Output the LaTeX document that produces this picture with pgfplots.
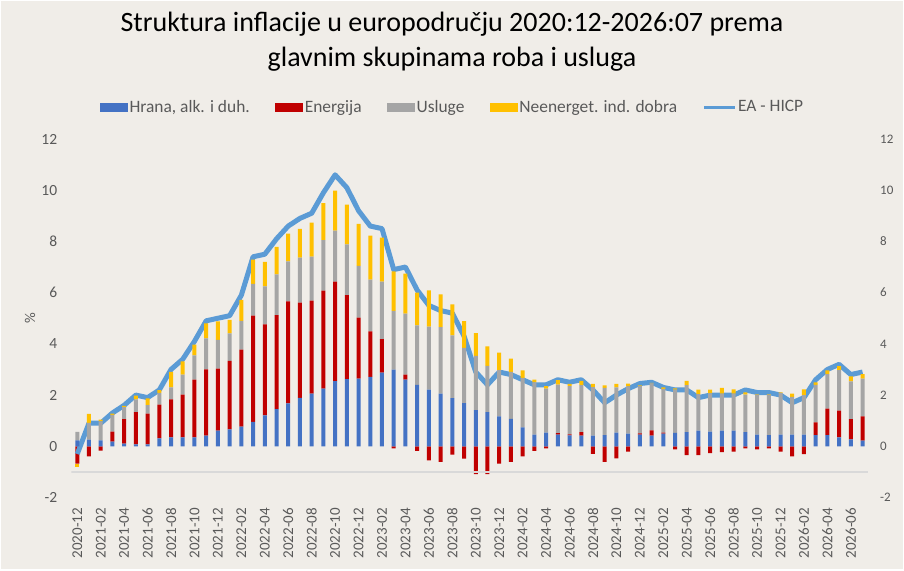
\documentclass[border=0pt]{standalone}
\usepackage{pgfplots}
\pgfplotsset{compat=1.18}
\usepackage{pgfplotstable}
\usepackage{fontspec}
\setmainfont{Carlito}
\definecolor{cfood}{HTML}{4472C4}
\definecolor{cenergy}{HTML}{C00000}
\definecolor{cserv}{HTML}{A5A5A5}
\definecolor{cneig}{HTML}{FFC000}
\definecolor{cline}{HTML}{5B9BD5}
\definecolor{cbg}{HTML}{F0EDE8}
\definecolor{ctick}{HTML}{595959}
\definecolor{caxis}{HTML}{D9D9D9}

\pgfplotstableread{
i food energy serv neig hicp
0 0.23 -0.68 0.33 -0.12 -0.3
1 0.26 -0.39 0.65 0.36 0.9
2 0.23 -0.17 0.74 0.07 0.9
3 0.18 0.39 0.66 0.05 1.3
4 0.10 0.96 0.47 0.05 1.6
5 0.07 1.26 0.50 0.15 2.0
6 0.07 1.21 0.33 0.26 1.9
7 0.31 1.32 0.46 0.10 2.2
8 0.35 1.48 0.47 0.61 3.0
9 0.35 1.67 0.78 0.52 3.4
10 0.35 2.25 0.95 0.42 4.1
11 0.42 2.58 1.21 0.59 4.9
12 0.61 2.42 1.13 0.72 5.0
13 0.66 2.68 1.07 0.53 5.1
14 0.77 3.00 1.13 0.82 5.9
15 0.95 4.15 1.24 0.95 7.4
16 1.21 3.55 1.48 0.96 7.5
17 1.45 3.67 1.59 1.08 8.1
18 1.68 3.98 1.56 1.08 8.6
19 1.89 3.72 1.76 1.12 8.9
20 2.06 3.63 1.72 1.32 9.1
21 2.25 3.83 1.97 1.45 9.9
22 2.54 3.89 1.99 1.56 10.6
23 2.62 3.28 1.98 1.56 10.1
24 2.64 2.38 2.03 1.64 9.2
25 2.71 1.78 2.02 1.72 8.6
26 2.88 1.30 2.25 1.72 8.5
27 2.99 -0.08 2.30 1.54 6.9
28 2.60 0.20 2.38 1.56 7.0
29 2.40 -0.18 2.32 1.28 6.1
30 2.21 -0.55 2.46 1.42 5.5
31 2.06 -0.61 2.59 1.28 5.3
32 1.88 -0.33 2.45 1.21 5.2
33 1.69 -0.48 2.15 1.05 4.3
34 1.41 -1.09 2.12 0.89 2.9
35 1.33 -1.09 1.81 0.76 2.4
36 1.17 -0.68 1.80 0.69 2.9
37 1.07 -0.61 1.84 0.51 2.8
38 0.74 -0.39 1.93 0.29 2.6
39 0.46 -0.18 2.04 0.10 2.4
40 0.53 -0.08 1.72 0.10 2.4
41 0.46 0.05 1.90 0.17 2.6
42 0.43 0.04 1.88 0.09 2.5
43 0.42 0.13 1.84 0.16 2.6
44 0.42 -0.30 1.89 0.13 2.2
45 0.44 -0.61 1.84 0.10 1.7
46 0.53 -0.47 1.77 0.14 2.0
47 0.49 -0.21 1.85 0.11 2.25
48 0.46 0.04 1.85 0.03 2.45
49 0.42 0.20 1.84 0.02 2.5
50 0.49 0.04 1.71 0.06 2.3
51 0.52 -0.12 1.69 0.05 2.2
52 0.55 -0.35 1.84 0.16 2.2
53 0.61 -0.35 1.43 0.17 1.9
54 0.57 -0.27 1.50 0.14 2.0
55 0.61 -0.23 1.45 0.22 2.0
56 0.61 -0.21 1.45 0.16 2.0
57 0.55 -0.08 1.47 0.09 2.2
58 0.46 -0.12 1.56 0.02 2.1
59 0.44 -0.08 1.58 0.02 2.1
60 0.46 -0.21 1.63 0.02 2.0
61 0.46 -0.39 1.47 0.13 1.7
62 0.46 -0.31 1.54 0.22 1.9
63 0.44 0.49 1.47 0.10 2.6
64 0.44 1.03 1.35 0.14 3.0
65 0.35 1.04 1.58 0.16 3.2
66 0.27 0.79 1.47 0.20 2.8
67 0.22 0.95 1.47 0.18 2.9
}\datatable

\pgfplotsset{
  common/.style={
    scale only axis, width=797pt, height=358.5pt,
    at={(0pt,0pt)}, anchor=south west,
    xmin=-0.5, xmax=67.5, ymin=-2, ymax=12, enlargelimits=false,
    axis line style={draw=none}, tick style={draw=none},
    ybar stacked, bar width=4pt,
    ytick={-2,0,2,4,6,8,10,12},
    /pgf/number format/assume math mode=true,
  },
  barimg/.style={legend image code/.code={\fill[##1] (0pt,-4.5pt) rectangle (28pt,4.5pt);}},
}

\begin{document}
\begin{tikzpicture}
\path[use as bounding box, fill=white] (-71.4pt,-72.5pt) rectangle (832.6pt,497.5pt);
\fill[cbg] (-69.9pt,-71pt) rectangle (831.1pt,496pt);

% negative parts + right axis labels
\begin{axis}[common,
  xtick=\empty,
  yticklabel pos=right,
  yticklabel style={font=\fontsize{13}{15}\selectfont, text=ctick, anchor=west, inner sep=0pt},
  yticklabel shift=11.6pt,
]
\draw[caxis, line width=1.5pt] (axis cs:-0.5,-1) -- (axis cs:67.5,-1);
\addplot[fill=cenergy, draw=none] table[x=i, y expr={min(\thisrow{energy},0)}] {\datatable};
\addplot[fill=cneig, draw=none] table[x=i, y expr={min(\thisrow{neig},0)}] {\datatable};
\end{axis}

% positive parts, line, left axis, legend, title
\begin{axis}[common,
  yticklabel pos=left,
  yticklabel style={font=\fontsize{15.5}{18}\selectfont, text=ctick, anchor=east, inner sep=0pt},
  yticklabel shift=14pt,
  xtick={0,2,...,66},
  xticklabels={2020-12,2021-02,2021-04,2021-06,2021-08,2021-10,2021-12,2022-02,2022-04,2022-06,2022-08,2022-10,2022-12,2023-02,2023-04,2023-06,2023-08,2023-10,2023-12,2024-02,2024-04,2024-06,2024-08,2024-10,2024-12,2025-02,2025-04,2025-06,2025-08,2025-10,2025-12,2026-02,2026-04,2026-06},
  xticklabel style={rotate=90, anchor=east, inner sep=0pt, font=\fontsize{15}{18}\selectfont, text=ctick},
  xticklabel shift=10.5pt,
  ylabel={\%},
  ylabel style={at={(axis description cs:-0.052,0.5)}, anchor=center, font=\fontsize{15}{18}\selectfont, text=ctick},
  title={Struktura inflacije u europodručju 2020:12-2026:07 prema\\glavnim skupinama roba i usluga},
  title style={at={(axis description cs:0.4775,1.2552)}, anchor=center, align=center, font=\fontsize{28}{34.7}\selectfont, text=black},
  legend style={at={(axis description cs:0.478,1.089)}, anchor=center, draw=none, fill=none,
    legend columns=5, font=\fontsize{17.4}{20}\selectfont, text=ctick,
    /tikz/every even column/.append style={column sep=24pt},
    nodes={inner sep=1.5pt}},
]
\addplot[fill=cfood, draw=none, barimg] table[x=i, y=food] {\datatable};
\addlegendentry{Hrana, alk. i duh.}
\addplot[fill=cenergy, draw=none, barimg] table[x=i, y expr={max(\thisrow{energy},0)}] {\datatable};
\addlegendentry{Energija}
\addplot[fill=cserv, draw=none, barimg] table[x=i, y=serv] {\datatable};
\addlegendentry{Usluge}
\addplot[fill=cneig, draw=none, barimg] table[x=i, y expr={max(\thisrow{neig},0)}] {\datatable};
\addlegendentry{Neenerget. ind. dobra}
\addplot[sharp plot, stack plots=false, color=cline, line width=5pt, line join=round, no marks,
  legend image code/.code={\draw[cline, line width=3pt] (0pt,0pt) -- (31pt,0pt);}]
  table[x=i, y=hicp] {\datatable};
\addlegendentry{EA - HICP}
\end{axis}
\end{tikzpicture}
\end{document}
